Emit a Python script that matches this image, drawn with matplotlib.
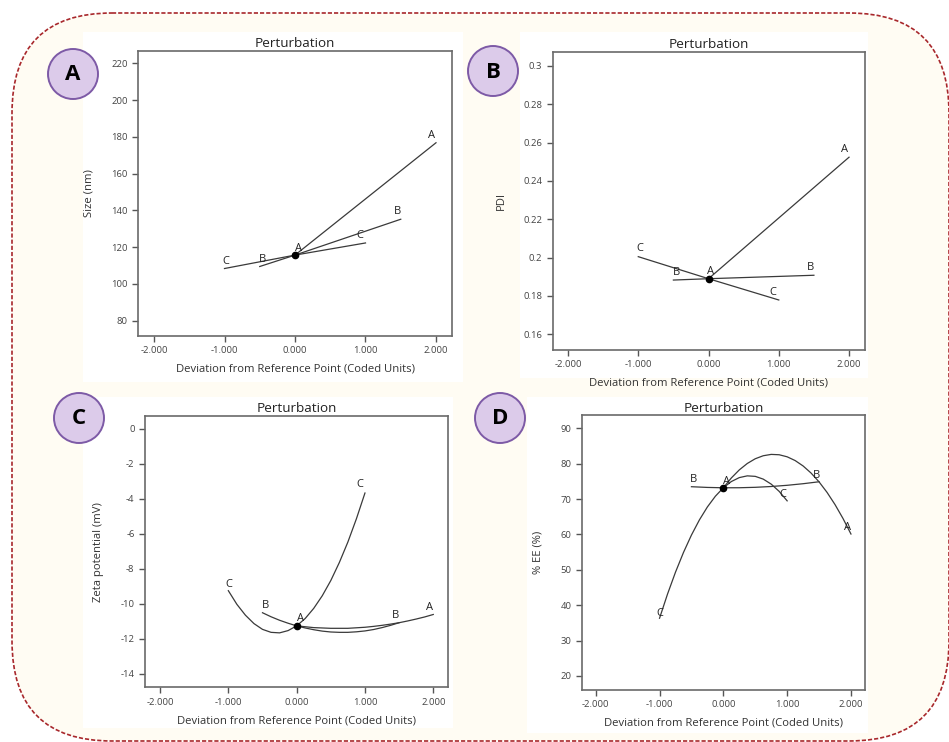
import matplotlib
matplotlib.use("Agg")
import matplotlib.pyplot as plt
from matplotlib.patches import FancyBboxPatch, Rectangle, Circle
from matplotlib.ticker import FormatStrFormatter, FuncFormatter

plt.rcParams['font.family'] = ['Open Sans', 'DejaVu Sans']

### DATA ###
# panel A - size
size_A_x = [0.0, 2.0]
size_A_y = [115.7, 176.8]
size_B_x = [-0.5, 0.0, 1.5]
size_B_y = [109.5, 115.7, 135.2]
size_C_x = [-1.0, 0.0, 1.0]
size_C_y = [108.4, 115.7, 122.3]

# panel B - PDI
pdi_A_x = [0.0, 2.0]
pdi_A_y = [0.189, 0.2524]
pdi_B_x = [-0.5, 0.0, 1.5]
pdi_B_y = [0.1883, 0.189, 0.1908]
pdi_C_x = [-1.0, 0.0, 1.0]
pdi_C_y = [0.2005, 0.189, 0.1779]

# panel C - zeta potential
zeta_A_x = [0.0, 0.125, 0.25, 0.375, 0.5, 0.625, 0.75, 0.875, 1.0,
            1.125, 1.25, 1.375, 1.5, 1.625, 1.75, 1.875, 2.0]
zeta_A_y = [-11.25, -11.30, -11.35, -11.37, -11.39, -11.39, -11.39, -11.36, -11.33,
            -11.28, -11.22, -11.15, -11.07, -10.97, -10.86, -10.74, -10.60]
zeta_B_x = [-0.5, -0.375, -0.25, -0.125, 0.0, 0.125, 0.25, 0.375, 0.5,
            0.625, 0.75, 0.875, 1.0, 1.125, 1.25, 1.375, 1.5]
zeta_B_y = [-10.50, -10.73, -10.93, -11.10, -11.25, -11.37, -11.47, -11.55, -11.60,
            -11.62, -11.62, -11.59, -11.54, -11.46, -11.35, -11.22, -11.07]
zeta_C_x = [-1.0, -0.875, -0.75, -0.625, -0.5, -0.375, -0.25, -0.125, 0.0,
            0.125, 0.25, 0.375, 0.5, 0.625, 0.75, 0.875, 1.0]
zeta_C_y = [-9.24, -10.02, -10.64, -11.12, -11.45, -11.62, -11.65, -11.52, -11.25,
            -10.83, -10.25, -9.53, -8.66, -7.63, -6.46, -5.13, -3.66]

# panel D - %EE
ee_A_x = [0.0, 0.125, 0.25, 0.375, 0.5, 0.625, 0.75, 0.875, 1.0,
          1.125, 1.25, 1.375, 1.5, 1.625, 1.75, 1.875, 2.0]
ee_A_y = [73.2, 75.97, 78.26, 80.07, 81.41, 82.26, 82.64, 82.54, 81.96,
          80.90, 79.37, 77.36, 74.87, 71.90, 68.45, 64.52, 60.12]
ee_B_x = [-0.5, -0.25, 0.0, 0.25, 0.5, 0.75, 1.0, 1.25, 1.5]
ee_B_y = [73.5, 73.3, 73.2, 73.21, 73.33, 73.56, 73.9, 74.35, 74.9]
ee_C_x = [-1.0, -0.875, -0.75, -0.625, -0.5, -0.375, -0.25, -0.125, 0.0,
          0.125, 0.25, 0.375, 0.5, 0.625, 0.75, 0.875, 1.0]
ee_C_y = [36.3, 43.13, 49.33, 54.9, 59.83, 64.12, 67.78, 70.81, 73.2,
          74.96, 76.08, 76.57, 76.43, 75.65, 74.23, 72.18, 69.5]

# reference points
ref_y = [115.7, 0.189, -11.25, 73.2]

# letter labels (text, x, y) per panel
labels_size = [("A", 1.94, 181), ("A", 0.05, 119.5), ("B", 1.46, 139.2),
               ("C", 0.92, 126.5), ("C", -0.98, 112.2), ("B", -0.46, 113.5)]
labels_pdi = [("A", 1.93, 0.2562), ("A", 0.03, 0.1927), ("B", 1.445, 0.1946),
              ("B", -0.45, 0.1922), ("C", -0.985, 0.2047), ("C", 0.92, 0.182)]
labels_zeta = [("C", 0.93, -3.16), ("C", -0.99, -8.86), ("B", -0.46, -10.08),
               ("A", 0.06, -10.84), ("B", 1.45, -10.63), ("A", 1.94, -10.21)]
labels_ee = [("B", -0.46, 75.4), ("A", 0.055, 74.9), ("B", 1.46, 76.8),
             ("C", 0.93, 71.3), ("A", 1.94, 61.9), ("C", -0.99, 37.7)]

xticks = [-2, -1, 0, 1, 2]
panel_letters = ["A", "B", "C", "D"]

### FIGURE ###
W, H = 949, 742
fig = plt.figure(figsize=(W / 100, H / 100), dpi=100)
fig.patch.set_facecolor("white")

# background layer in pixel units
bg = fig.add_axes([0, 0, 1, 1], zorder=-1)
bg.set_xlim(0, W)
bg.set_ylim(H, 0)
bg.axis("off")
frame = FancyBboxPatch((12, 13), 937, 728, boxstyle="round,pad=0,rounding_size=100",
                       facecolor="#fffcf3", edgecolor="#a8282c", linewidth=1.2,
                       linestyle=(0, (2.5, 1.2)))
bg.add_patch(frame)
# white panels behind each chart
for (x0, y0, x1, y1) in [(83, 32, 463, 382), (520, 32, 868, 378),
                         (83, 397, 453, 728), (527, 397, 868, 733)]:
    bg.add_patch(Rectangle((x0, y0), x1 - x0, y1 - y0, facecolor="white", edgecolor="none"))
# lettered badges
for letter, (cx, cy) in zip(panel_letters, [(73, 74), (493, 71), (79, 418), (500, 418)]):
    bg.add_patch(Circle((cx, cy), 25, facecolor="#dccbea", edgecolor="#7d5aa6", linewidth=1.4))
    bg.text(cx, cy + 1, letter, ha="center", va="center", fontsize=16, fontweight="bold")

line_kw = dict(color="#3a3a3a", linewidth=0.9)


def style_axes(ax, xlim, ylim, yticks, ylabel, yfmt):
    ax.set_xlim(xlim)
    ax.set_ylim(ylim)
    ax.set_xticks(xticks)
    ax.set_yticks(yticks)
    ax.xaxis.set_major_formatter(FormatStrFormatter("%.3f"))
    ax.yaxis.set_major_formatter(yfmt)
    for s in ax.spines.values():
        s.set_color("#6a6a6a")
        s.set_linewidth(1.2)
    ax.tick_params(direction="out", length=4.5, width=1, color="#555555",
                   labelsize=6.8, labelcolor="#444444", pad=3)
    ax.set_title("Perturbation", fontsize=9.7, pad=3, color="#222222")
    ax.set_xlabel("Deviation from Reference Point (Coded Units)", fontsize=8.1,
                  color="#333333", labelpad=6)
    ax.set_ylabel(ylabel, fontsize=8.1, color="#333333", labelpad=12)


def draw_panel(rect, series, ref, labels):
    ax = fig.add_axes(rect)
    for xs, ys in series:
        ax.plot(xs, ys, **line_kw)
    ax.plot([0], [ref], "o", color="black", markersize=4.5, zorder=5)
    for t, x, y in labels:
        ax.text(x, y, t, ha="center", va="center", fontsize=8, color="#222222")
    return ax


def px_rect(left, top, right, bottom):
    return [left / W, 1 - bottom / H, (right - left) / W, (bottom - top) / H]


axA = draw_panel(px_rect(138, 51, 452, 336),
                 [(size_A_x, size_A_y), (size_B_x, size_B_y), (size_C_x, size_C_y)],
                 ref_y[0], labels_size)
style_axes(axA, (-2.227, 2.227), (71.7, 226.7), range(80, 221, 20), "Size (nm)",
           FormatStrFormatter("%d"))

axB = draw_panel(px_rect(552.7, 52, 864.7, 350),
                 [(pdi_A_x, pdi_A_y), (pdi_B_x, pdi_B_y), (pdi_C_x, pdi_C_y)],
                 ref_y[1], labels_pdi)
style_axes(axB, (-2.218, 2.223), (0.1518, 0.3073),
           [0.16, 0.18, 0.2, 0.22, 0.24, 0.26, 0.28, 0.3], "PDI",
           FuncFormatter(lambda v, p: f"{v:.2f}".rstrip("0")))

axC = draw_panel(px_rect(145, 416, 448.3, 687.3),
                 [(zeta_A_x, zeta_A_y), (zeta_B_x, zeta_B_y), (zeta_C_x, zeta_C_y)],
                 ref_y[2], labels_zeta)
style_axes(axC, (-2.22, 2.22), (-14.76, 0.74), range(-14, 1, 2), "Zeta potential (mV)",
           FormatStrFormatter("%d"))

axD = draw_panel(px_rect(581.7, 415.3, 865, 690),
                 [(ee_A_x, ee_A_y), (ee_B_x, ee_B_y), (ee_C_x, ee_C_y)],
                 ref_y[3], labels_ee)
style_axes(axD, (-2.22, 2.22), (16.0, 93.7), range(20, 91, 10), "% EE (%)",
           FormatStrFormatter("%d"))
axD.set_title("Perturbation", fontsize=9.7, pad=1, color="#222222")

fig.savefig("out.png", dpi=100)
